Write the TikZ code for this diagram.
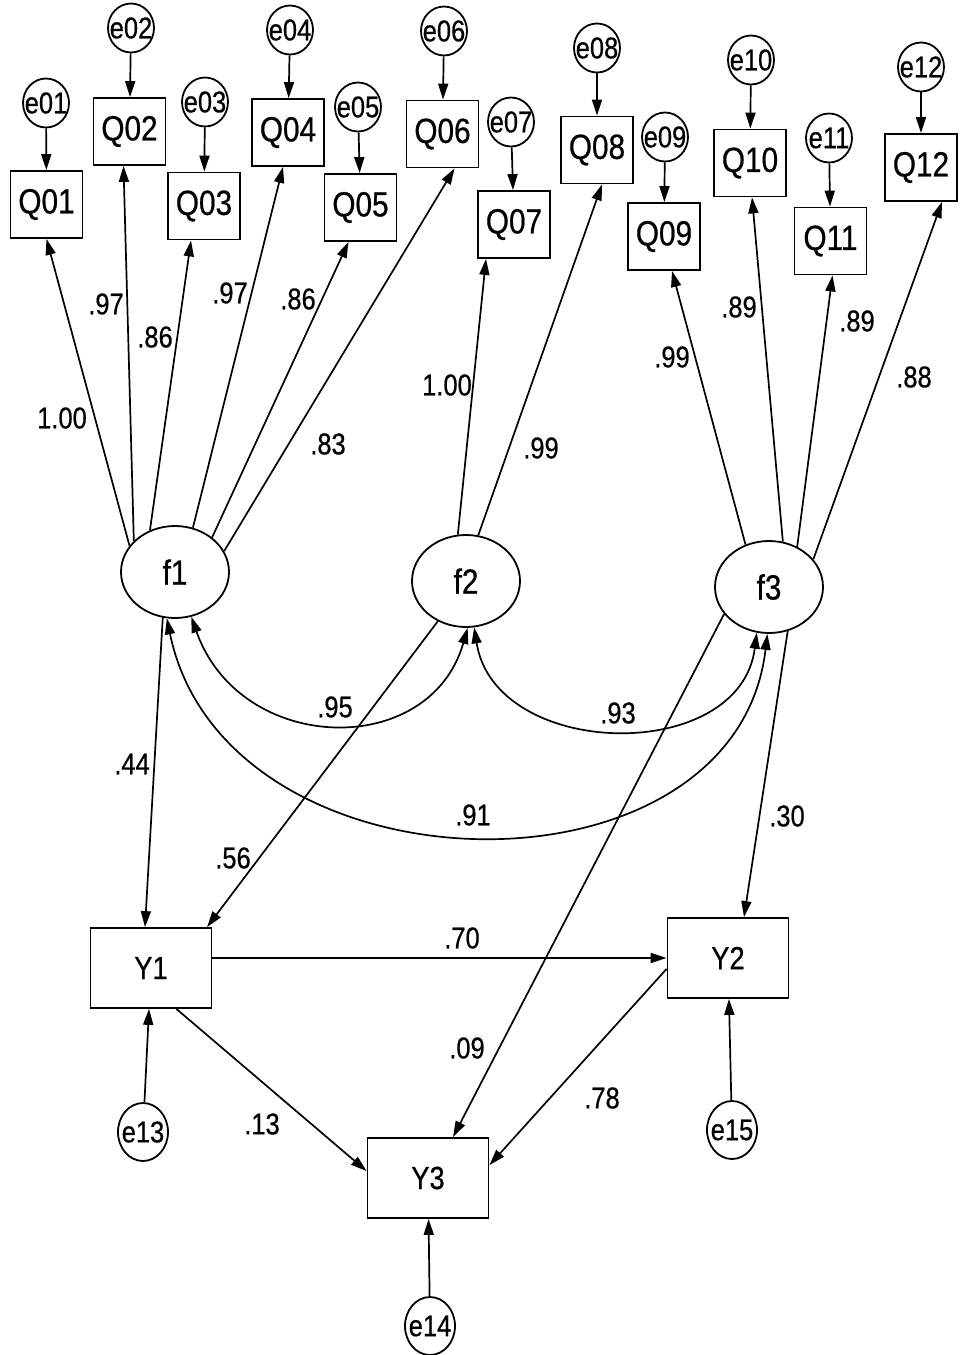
\documentclass[tikz,border=0pt]{standalone}
\usepackage{fontspec}
\setmainfont{Liberation Sans}[FakeStretch=0.85,FakeBold=0.6]
\usetikzlibrary{shapes.geometric,arrows.meta}
\begin{document}
\begin{tikzpicture}[x=0.5pt,y=-0.5pt,
  >={Triangle[length=8pt,width=5pt]},
  obs/.style={draw, line width=0.9pt, rectangle, minimum width=36pt, minimum height=33.5pt, inner sep=0pt, font=\fontsize{17.5}{20}\selectfont},
  err/.style={draw, ellipse, line width=0.9pt, minimum width=23pt, minimum height=24.5pt, inner sep=0pt, font=\fontsize{15}{17}\selectfont},
  errb/.style={err, minimum width=25pt, minimum height=29pt},
  lat/.style={draw, ellipse, line width=0.9pt, minimum width=54pt, minimum height=46pt, inner sep=0pt, font=\fontsize{17.5}{20}\selectfont},
  endo/.style={obs, minimum width=60.5pt, minimum height=40pt, font=\fontsize{16}{18}\selectfont},
  coef/.style={font=\fontsize{15}{18}\selectfont, inner sep=0pt},
  link/.style={->, line width=0.85pt},
  cov/.style={<->, line width=0.85pt}
]
\useasboundingbox (0,0) rectangle (961,1355);

% observed indicators
\node[obs] (Q01) at (46.5,204.5) {Q01};
\node[obs] (Q02) at (129.5,131.5) {Q02};
\node[obs] (Q03) at (204,206) {Q03};
\node[obs] (Q04) at (288,132.5) {Q04};
\node[obs] (Q05) at (360.5,207.5) {Q05};
\node[obs] (Q06) at (442.5,134) {Q06};
\node[obs] (Q07) at (514,224.5) {Q07};
\node[obs] (Q08) at (597,150) {Q08};
\node[obs] (Q09) at (664,236.5) {Q09};
\node[obs] (Q10) at (750,163) {Q10};
\node[obs] (Q11) at (830.5,241) {Q11};
\node[obs] (Q12) at (921,167.5) {Q12};

% error terms
\node[err] (e01) at (46,103) {\makebox[0pt]{e01}};
\node[err] (e02) at (131,28) {\makebox[0pt]{e02}};
\node[err] (e03) at (205,102) {\makebox[0pt]{e03}};
\node[err] (e04) at (290,30) {\makebox[0pt]{e04}};
\node[err] (e05) at (358,107) {\makebox[0pt]{e05}};
\node[err] (e06) at (444,31) {\makebox[0pt]{e06}};
\node[err] (e07) at (511,122) {\makebox[0pt]{e07}};
\node[err] (e08) at (597,48) {\makebox[0pt]{e08}};
\node[err] (e09) at (665,137) {\makebox[0pt]{e09}};
\node[err] (e10) at (751,60) {\makebox[0pt]{e10}};
\node[err] (e11) at (829,138) {\makebox[0pt]{e11}};
\node[err] (e12) at (921,67) {\makebox[0pt]{e12}};

% latent factors
\node[lat] (f1) at (175,572) {f1};
\node[lat] (f2) at (466,581) {f2};
\node[lat] (f3) at (769,587) {f3};

% endogenous observed
\node[endo] (Y1) at (151,968) {Y1};
\node[endo] (Y2) at (728,958) {Y2};
\node[endo] (Y3) at (428,1178) {Y3};

\node[errb] (e13) at (143,1132) {\makebox[0pt]{e13}};
\node[errb] (e14) at (430,1326) {\makebox[0pt]{e14}};
\node[errb] (e15) at (732,1130) {\makebox[0pt]{e15}};

% error arrows
\foreach \i in {01,02,03,04,05,06,07,08,09,10,11,12}
  \draw[link] (e\i) -- (Q\i);
\draw[link] (e13) -- (Y1);
\draw[link] (e14) -- (Y3);
\draw[link] (e15) -- (Y2);

% loadings
\draw[link] (f1.150) -- (Q01.south);
\draw[link] (f1.143) -- ([xshift=-3pt]Q02.south);
\draw[link] (f1.121) -- ([xshift=-6.5pt]Q03.south);
\draw[link] (f1.68) -- ([xshift=-2.5pt]Q04.south);
\draw[link] (f1.43) -- ([xshift=-6pt]Q05.south);
\draw[link] (f1.23) -- ([xshift=6pt]Q06.south);
\draw[link] (f2.100) -- ([xshift=-14pt]Q07.south);
\draw[link] (f2.75) -- ([xshift=2.5pt]Q08.south);
\draw[link] (f3.119) -- ([xshift=4pt]Q09.south);
\draw[link] (f3.73) -- ([xshift=1pt]Q10.south);
\draw[link] (f3.55) -- ([xshift=1pt]Q11.south);
\draw[link] (f3.32) -- ([xshift=10.5pt]Q12.south);

% covariances
\draw[cov] (f1.-70) .. controls (240,755) and (430,760) .. (f2.-88);
\draw[cov] (f2.-80) .. controls (495,760) and (740,765) .. (f3.-105);
\draw[cov] (f1.-100) .. controls (225,900) and (735,910) .. (f3.-92);

% structural paths
\draw[link] (f1.-105) -- ([xshift=-3pt]Y1.north);
\draw[link] (f2.-125) -- ([xshift=28pt]Y1.north);
\draw[link] (f3.-149) -- ([xshift=12.5pt]Y3.north);
\draw[link] (f3.-67) -- ([xshift=8pt]Y2.north);
\draw[link] ([yshift=5pt]Y1.east) -- (Y2.west);
\draw[link] ([xshift=-18pt]Y1.south east) -- ([yshift=-17pt]Y3.north west);
\draw[link] ([yshift=15pt]Y2.south west) -- ([yshift=-14pt]Y3.north east);

% coefficients
\node[coef] (c01) at (62,418) {1.00};
\node[coef] (c02) at (106,304) {.97};
\node[coef] (c03) at (155,337) {.86};
\node[coef] (c04) at (230,293) {.97};
\node[coef] (c05) at (298,299) {.86};
\node[coef] (c06) at (328,444) {.83};
\node[coef] (c07) at (447,385) {1.00};
\node[coef] (c08) at (541,448) {.99};
\node[coef] (c09) at (672,357) {.99};
\node[coef] (c10) at (739,307) {.89};
\node[coef] (c11) at (857,321) {.89};
\node[coef] (c12) at (914,377) {.88};
\node[coef] (c95) at (335,707) {.95};
\node[coef] (c93) at (618,713) {.93};
\node[coef] (c91) at (473,815) {.91};
\node[coef] (c44) at (132,764) {.44};
\node[coef] (c30) at (787,816) {.30};
\node[coef] (c56) at (233,858) {.56};
\node[coef] (c70) at (462,938) {.70};
\node[coef] (c09b) at (467,1048) {.09};
\node[coef] (c13) at (262,1124) {.13};
\node[coef] (c78) at (602,1098) {.78};
\end{tikzpicture}
\end{document}
